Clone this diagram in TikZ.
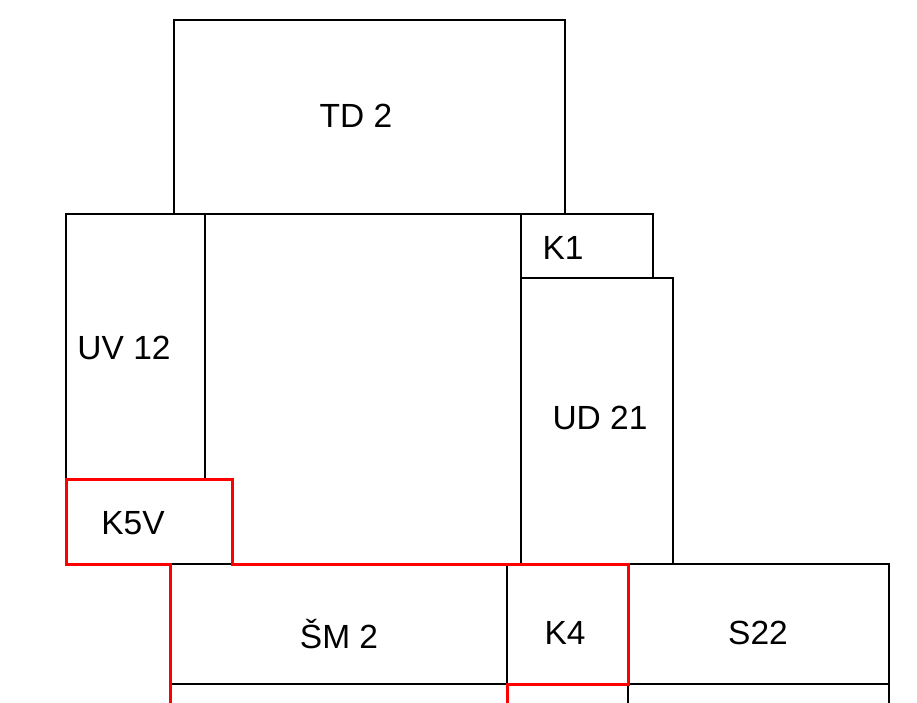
\documentclass[tikz,border=0pt]{standalone}
\usepackage{fontspec}
\setmainfont{Liberation Sans}
\begin{document}
\begin{tikzpicture}[x=1pt,y=-1pt,
  wall/.style={draw=black,line width=2pt},
  redwall/.style={draw=red,line width=3pt,line join=miter},
  lbl/.style={inner sep=0pt,font=\fontsize{33.5}{36}\selectfont}]
\useasboundingbox (0,0) rectangle (917,703);
% rooms
\draw[wall] (174,214) rectangle (565,20);
\draw[wall] (66,479) rectangle (205,214);
\draw[wall] (205,479) -- (205,214) -- (521,214) -- (521,564);
\draw[wall] (521,214) rectangle (653,278);
\draw[wall] (521,278) rectangle (673,564);
\draw[wall] (170,564) rectangle (507,684);
\draw[wall] (507,564) rectangle (628,684);
\draw[wall] (628,564) rectangle (889,684);
\draw[wall] (170,684) -- (170,703);
\draw[wall] (507,684) -- (507,703);
\draw[wall] (628,684) -- (628,703);
\draw[wall] (889,684) -- (889,703);
% red outline
\draw[redwall] (170,703) -- (170,564) -- (66,564) -- (66,479) -- (232,479) -- (232,564) -- (628,564) -- (628,684) -- (507,684) -- (507,703);
% labels
\node[lbl] (td2) at (356,116) {TD 2};
\node[lbl] (uv12) at (124,348) {UV 12};
\node[lbl] (k1) at (563,248) {K1};
\node[lbl] (ud21) at (600,418) {UD 21};
\node[lbl] (k5v) at (133,523) {K5V};
\node[lbl] (sm2) at (339,634) {ŠM 2};
\node[lbl] (k4) at (565,633) {K4};
\node[lbl] (s22) at (758,633) {S22};
\end{tikzpicture}
\end{document}
